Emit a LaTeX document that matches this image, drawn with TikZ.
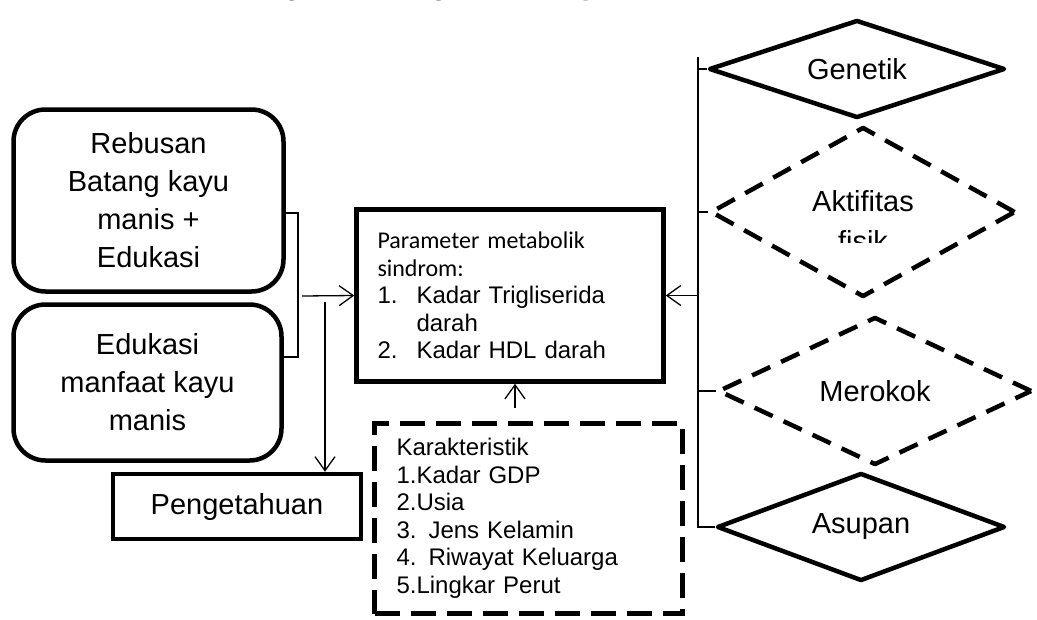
\documentclass[tikz,border=0pt]{standalone}
\usepackage{fontspec}
\setmainfont{Liberation Sans}
\newfontfamily\calibri{Carlito}
\usetikzlibrary{shapes.geometric,arrows.meta}

\begin{document}
\begin{tikzpicture}[x=1pt,y=-1pt,
  roundbox/.style={draw, line width=4.5pt, rounded corners=32pt, align=center, inner sep=0pt, font=\fontsize{29}{38}\selectfont},
  plainbox/.style={draw, line width=4.5pt, inner sep=0pt, font=\fontsize{29}{33}\selectfont},
  listbox/.style={draw, line width=4.5pt, align=left, inner ysep=0pt, font=\fontsize{24}{27.5}\selectfont},
  gem/.style={diamond, aspect=4, draw, line width=4.5pt, line join=round, inner sep=0pt, font=\fontsize{29}{33}\selectfont},
  gemdash/.style={gem, dash pattern=on 20pt off 12pt},
  link/.style={line width=1.3pt},
  arr/.style={link, -{Straight Barb[length=14pt,width=20pt]}},
  judul/.style={font=\bfseries\fontsize{30}{36}\selectfont, anchor=base}
]
\useasboundingbox (0,0) rectangle (1037,619);
\clip (0,0) rectangle (1037,619);

\node[judul] (jd) at (449,-5.5) {Bagan Kerangka Konseptual};

\node[roundbox, minimum width=270pt, minimum height=182pt] (rebusan) at (148.5,200.5) {Rebusan\\Batang kayu\\manis +\\Edukasi};
\node[roundbox, minimum width=268pt, minimum height=156pt] (edukasi) at (147.5,382.5) {Edukasi\\manfaat kayu\\manis};
\node[plainbox, minimum width=248pt, minimum height=65pt] (peng) at (237,506.5) {Pengetahuan};

\node[listbox, inner xsep=21pt, text width=265pt, minimum height=172pt] (param) at (510,295.5)
  {{\calibri Parameter metabolik}\\{\calibri sindrom:}\\\makebox[39pt][l]{1.}Kadar Trigliserida\\\hspace*{39pt}darah\\\makebox[39pt][l]{2.}Kadar HDL darah};
\node[listbox, dash pattern=on 25pt off 11pt, inner xsep=22pt, text width=264pt, minimum height=190pt] (karak) at (528.5,518.5)
  {Karakteristik\\1.Kadar GDP\\2.Usia\\3. Jens Kelamin\\4. Riwayat Keluarga\\5.Lingkar Perut};

\node[gem, minimum width=296pt, minimum height=98pt] (gen) at (857,69) {Genetik};
\node[gemdash, minimum width=305pt, minimum height=170pt] (akt) at (863,212) {};
\node[gemdash, minimum width=314pt, minimum height=148pt] (rok) at (875,391) {Merokok};
\node[gem, minimum width=288pt, minimum height=108pt] (asu) at (861,527) {Asupan};

\node[font=\fontsize{29}{33}\selectfont, anchor=base] (akt1) at (863,211) {Aktifitas};
\begin{scope}
  \clip (780,200) rectangle (950,242);
  \node[font=\fontsize{29}{33}\selectfont, anchor=base] (akt2) at (863,251) {fisik};
\end{scope}

\coordinate (sa) at (698,57);
\coordinate (sb) at (698,527);
\draw[link] (sa) -- (sb) -- (asu.west);
\draw[link] (gen.west) -- (gen.west -| sa);
\draw[link] (akt.west) -- (akt.west -| sa);
\draw[link] (rok.west) -- (rok.west -| sa);
\draw[arr] (param.east -| sa) -- (param.east);

\coordinate (ba) at (298,213);
\coordinate (bb) at (298,357);
\draw[link] (rebusan.east |- ba) -- (ba) -- (bb) -- (edukasi.east |- bb);
\coordinate (bm) at (302,296);
\draw[arr] (bm) -- (param.west);
\coordinate (kd) at (325,302);
\draw[arr] (kd) -- (kd |- peng.north);
\coordinate (ku) at (515,408);
\draw[arr] (ku) -- (ku |- param.south);
\end{tikzpicture}
\end{document}
